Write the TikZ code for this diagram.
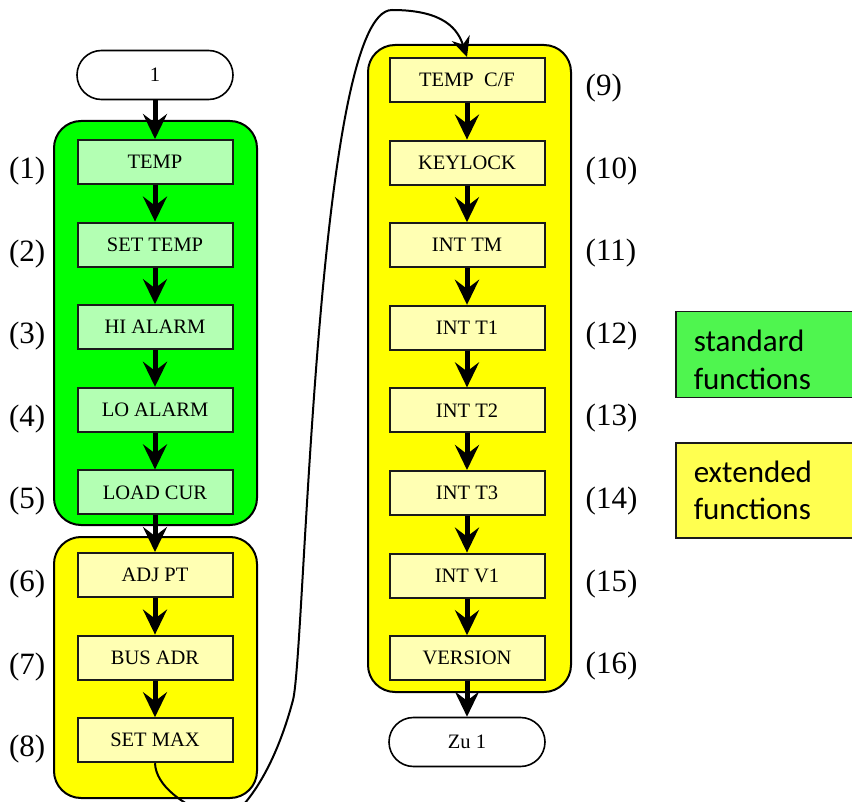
\documentclass[tikz,border=0pt]{standalone}
\usepackage{fontspec}
\setmainfont{Liberation Serif}
\newfontfamily\keyfont{Carlito}
\usetikzlibrary{arrows.meta,positioning,shapes.misc}
\definecolor{cGreen}{HTML}{00FF00}
\definecolor{cGreenL}{HTML}{B3FFB3}
\definecolor{cGreenK}{HTML}{4FF54F}
\definecolor{cYellow}{HTML}{FFFF00}
\definecolor{cYellowL}{HTML}{FFFFB3}
\definecolor{cYellowK}{HTML}{FFFF50}
\definecolor{cEdge}{HTML}{1A1A1A}
\tikzset{
  grp/.style  = {draw=black, line width=2pt, rounded corners=27pt},
  fn/.style   = {draw=cEdge, line width=2pt, minimum width=155pt, minimum height=44pt,
                 inner sep=0pt, font=\fontsize{20.5}{24}\selectfont},
  fng/.style  = {fn, fill=cGreenL},
  fny/.style  = {fn, fill=cYellowL},
  term/.style = {rounded rectangle, draw=black, line width=1.6pt, fill=white,
                 minimum width=156pt, minimum height=49pt, inner sep=0pt,
                 font=\fontsize{20.5}{24}\selectfont},
  num/.style  = {font=\fontsize{31}{36}\selectfont, inner sep=0pt},
  key/.style  = {draw=cEdge, line width=1.5pt, anchor=north west, align=left,
                 minimum width=177pt, inner xsep=18pt, inner ysep=0pt, text width=141pt,
                 font=\keyfont\fontsize{31}{37.5}\selectfont},
  ar/.style   = {-{Stealth[length=25pt,width=24pt,inset=9pt]}, line width=5pt},
  jmp/.style  = {-{Stealth[length=20pt,width=19pt,inset=7pt]}, line width=2pt},
}
\begin{document}
\begin{tikzpicture}[x=1pt, y=-1pt]
  \useasboundingbox (0,0) rectangle (852,802);
  % function groups
  \fill[cGreen, grp] (54,121) rectangle (257,525);
  \fill[cYellow, grp] (54,537) rectangle (257,798);
  \fill[cYellow, grp] (368,45) rectangle (571,692);
  % left column, steps 1..8
  \foreach \i/\t in {1/TEMP, 2/SET TEMP, 3/HI ALARM, 4/LO ALARM, 5/LOAD CUR}
    \node[fng] (l\i) at (155,{162+82.6*(\i-1)}) {\t};
  \foreach \i/\t in {6/ADJ PT, 7/BUS ADR, 8/SET MAX}
    \node[fny] (l\i) at (155,{162+82.6*(\i-1)}) {\t};
  \foreach \i in {1,...,8}
    \node[num, anchor=east, left=31pt of l\i, yshift=-9pt] (nl\i) {(\i)};
  % right column, steps 9..16
  \foreach \i/\t in {9/{TEMP\ \ C/F}, 10/KEYLOCK, 11/INT TM, 12/INT T1, 13/INT T2,
                     14/INT T3, 15/INT V1, 16/VERSION}
    \node[fny] (r\i) at (467,{80+82.6*(\i-9)}) {\t};
  \foreach \i in {9,...,16}
    \node[num, anchor=west, right=40pt of r\i, yshift=-8pt] (nr\i) {(\i)};
  % start / end
  \node[term] (start) at (155,75) {1};
  \node[term] (stop) at (467,742) {Zu 1};
  % flow
  \draw[ar] (start.south) -- (l1.north);
  \foreach \i [evaluate=\i as \j using int(\i+1)] in {1,...,7}
    \draw[ar] (l\i.south) -- (l\j.north);
  \foreach \i [evaluate=\i as \j using int(\i+1)] in {9,...,15}
    \draw[ar] (r\i.south) -- (r\j.north);
  \draw[ar] (r16.south) -- (stop.north);
  % jump to second column (bottom of the loop lies below the page)
  \coordinate (lowbend) at (225,822);
  \coordinate (midbend) at (293,700);
  \coordinate (topbend) at (392,10);
  \draw[jmp] (l8.south) .. controls (156,785) and (180,805) .. (lowbend)
    .. controls (262,795) and (283,738) .. (midbend)
    .. controls (305,655) and (316,10) .. (topbend)
    .. controls (445,10) and (458,30) .. (r9.north);
  % legend
  \node[key, fill=cGreenK, minimum height=86pt] (kstd) at (675,311)
       {\rule{0pt}{32pt}standard\\functions};
  \node[key, fill=cYellowK, minimum height=95pt] (kext) at (675,442)
       {extended\\functions};
\end{tikzpicture}
\end{document}
